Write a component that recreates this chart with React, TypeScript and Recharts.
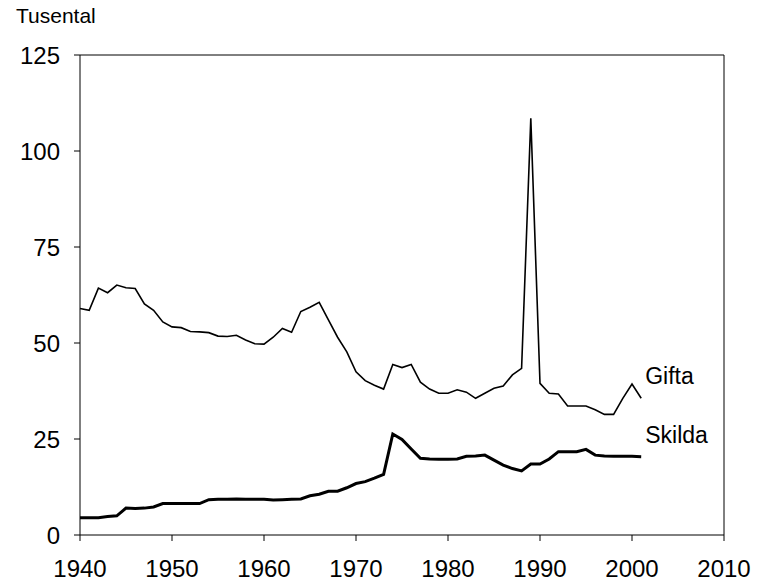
import React from 'react';
import { LineChart, Line, XAxis, YAxis, ReferenceLine } from 'recharts';

const years = [
  1940, 1941, 1942, 1943, 1944, 1945, 1946, 1947, 1948, 1949,
  1950, 1951, 1952, 1953, 1954, 1955, 1956, 1957, 1958, 1959,
  1960, 1961, 1962, 1963, 1964, 1965, 1966, 1967, 1968, 1969,
  1970, 1971, 1972, 1973, 1974, 1975, 1976, 1977, 1978, 1979,
  1980, 1981, 1982, 1983, 1984, 1985, 1986, 1987, 1988, 1989,
  1990, 1991, 1992, 1993, 1994, 1995, 1996, 1997, 1998, 1999,
  2000, 2001,
];

// tusental
const gifta = [
  59, 58.5, 64.3, 63.1, 65.1, 64.4, 64.2, 60.2, 58.5, 55.5,
  54.2, 54, 53, 52.9, 52.7, 51.8, 51.7, 52, 50.8, 49.8,
  49.7, 51.5, 53.8, 52.8, 58.2, 59.3, 60.6, 56, 51.5, 47.7,
  42.5, 40.2, 39, 38, 44.4, 43.6, 44.4, 39.8, 38, 36.9,
  36.9, 37.8, 37.2, 35.6, 36.9, 38.2, 38.8, 41.7, 43.4, 108.5,
  39.5, 36.9, 36.7, 33.6, 33.6, 33.6, 32.6, 31.4, 31.4, 35.6,
  39.3, 35.6,
];

const skilda = [
  4.5, 4.5, 4.5, 4.8, 5, 7, 6.9, 7, 7.3, 8.2,
  8.2, 8.2, 8.2, 8.2, 9.2, 9.3, 9.3, 9.4, 9.3, 9.3,
  9.3, 9.1, 9.2, 9.3, 9.4, 10.2, 10.6, 11.4, 11.4, 12.3,
  13.4, 13.9, 14.8, 15.8, 26.3, 24.9, 22.4, 20, 19.8, 19.7,
  19.7, 19.8, 20.5, 20.6, 20.8, 19.5, 18.2, 17.3, 16.7, 18.5,
  18.5, 19.8, 21.7, 21.7, 21.7, 22.3, 20.8, 20.6, 20.5, 20.5,
  20.5, 20.4,
];

const xTicks = [1940, 1950, 1960, 1970, 1980, 1990, 2000, 2010];
const yTicks = [0, 25, 50, 75, 100, 125];

const data = years.map((year, i) => ({ year, Gifta: gifta[i], Skilda: skilda[i] }));

const FONT = '"Liberation Sans", Arial, sans-serif';

const endLabel = (name: string, lastIndex: number) => (props: any) => {
  const { x, y, index } = props;
  if (index !== lastIndex) return null;
  return (
    <text x={x + 4} y={y - 14} fontSize={23} fill="#000" fontFamily={FONT}>
      {name}
    </text>
  );
};

export default function App() {
  const last = years.length - 1;
  return (
    <div style={{ position: 'absolute', left: 0, top: 0, background: '#fff', fontFamily: FONT }}>
      <div
        style={{
          position: 'absolute',
          left: 16,
          top: 4,
          fontSize: 21,
          lineHeight: '24px',
          color: '#000',
        }}
      >
        Tusental
      </div>
      <LineChart width={762} height={586} data={data} margin={{ top: 55, right: 38, bottom: 0, left: 0 }}>
        <XAxis
          dataKey="year"
          type="number"
          domain={[1940, 2010]}
          ticks={xTicks}
          height={51}
          tickSize={6}
          tickMargin={19}
          stroke="#000"
          tick={{ fill: '#000', fontSize: 24, fontFamily: FONT }}
        />
        <YAxis
          domain={[0, 125]}
          ticks={yTicks}
          width={80}
          tickSize={6}
          tickMargin={14}
          stroke="#000"
          tick={{ fill: '#000', fontSize: 24, fontFamily: FONT }}
        />
        <ReferenceLine y={125} stroke="#000" />
        <ReferenceLine x={2010} stroke="#000" />
        <Line
          type="linear"
          dataKey="Gifta"
          stroke="#000"
          strokeWidth={1.6}
          dot={false}
          isAnimationActive={false}
          label={endLabel('Gifta', last)}
        />
        <Line
          type="linear"
          dataKey="Skilda"
          stroke="#000"
          strokeWidth={3}
          dot={false}
          isAnimationActive={false}
          label={endLabel('Skilda', last)}
        />
      </LineChart>
    </div>
  );
}
